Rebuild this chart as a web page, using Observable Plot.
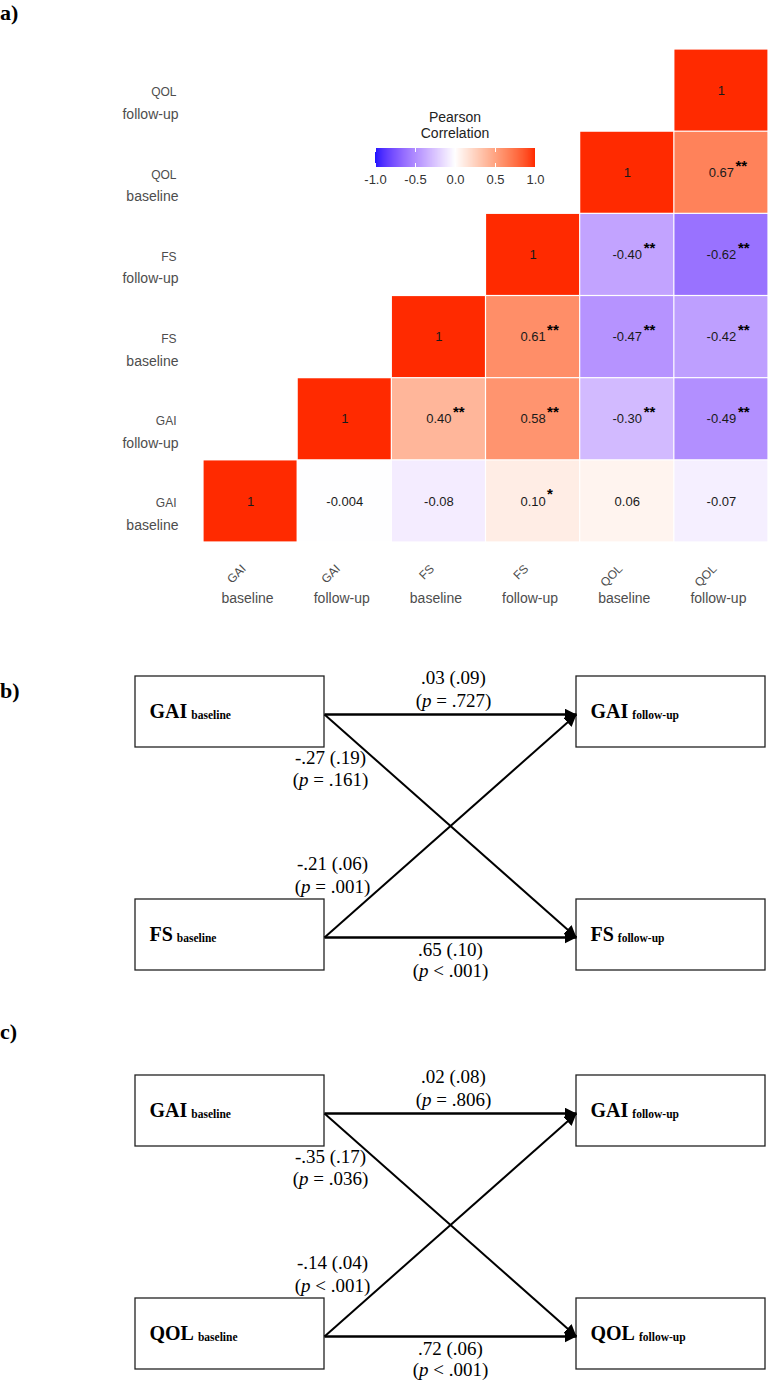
<!DOCTYPE html>
<html>
<head>
<meta charset="utf-8">
<script src="https://cdn.jsdelivr.net/npm/d3@7"></script>
<script src="https://cdn.jsdelivr.net/npm/@observablehq/plot@0.6"></script>
<style>
  body { margin: 0; background: #fff; }
  #page { position: relative; width: 780px; height: 1381px; overflow: hidden; background: #fff; }
  .panel { position: absolute; left: 0; }
  .panel-label { position: absolute; left: 0; font-family: "Liberation Serif", "Times New Roman", serif; font-weight: bold; font-size: 22px; line-height: 22px; color: #000; z-index: 5; }
  #legend-title { position: absolute; left: 375px; width: 160px; top: 109px; text-align: center; font-family: "Liberation Sans", Arial, sans-serif; font-size: 14px; line-height: 16px; color: #222; z-index: 4; }
  #legend { position: absolute; left: 355px; top: 140px; z-index: 4; }
  #legend svg { font: 13px "Liberation Sans", Arial, sans-serif !important; background: transparent !important; overflow: visible; }
  #legend svg text { fill: #333; }
  #legend .tick line { stroke: #fff !important; stroke-width: 1px; stroke-dasharray: 4, 11, 4, 100; }
</style>
</head>
<body>
<div id="page"></div>
<script>
// ---------------- DATA ----------------
// Variables of the correlation matrix (bottom-to-top on the y axis, left-to-right on x)
const measures = ["GAI", "FS", "QOL"];
const times = ["baseline", "follow-up"];
const variables = ["GAI baseline", "GAI follow-up", "FS baseline", "FS follow-up", "QOL baseline", "QOL follow-up"];

// Upper-triangle Pearson correlations, one row per variable, starting at the diagonal
const rGAIbaseline = [1, -0.004, -0.08, 0.10, 0.06, -0.07];
const rGAIfollowup = [1, 0.40, 0.58, -0.30, -0.49];
const rFSbaseline  = [1, 0.61, -0.47, -0.42];
const rFSfollowup  = [1, -0.40, -0.62];
const rQOLbaseline = [1, 0.67];
const rQOLfollowup = [1];

// Significance stars for the same cells
const sGAIbaseline = ["", "", "", "*", "", ""];
const sGAIfollowup = ["", "**", "**", "**", "**"];
const sFSbaseline  = ["", "**", "**", "**"];
const sFSfollowup  = ["", "**", "**"];
const sQOLbaseline = ["", "**"];
const sQOLfollowup = [""];

// Legend ticks
const legendTicks = [-1, -0.5, 0, 0.5, 1];

// Panel b: cross-lagged paths GAI <-> FS
const bMeasures = ["GAI", "FS"];
const bFrom = ["GAI baseline", "GAI baseline", "FS baseline", "FS baseline"];
const bTo   = ["GAI follow-up", "FS follow-up", "GAI follow-up", "FS follow-up"];
const bEst  = [0.03, -0.27, -0.21, 0.65];
const bSE   = [0.09, 0.19, 0.06, 0.10];
const bP    = ["= .727", "= .161", "= .001", "< .001"];

// Panel c: cross-lagged paths GAI <-> QOL
const cMeasures = ["GAI", "QOL"];
const cFrom = ["GAI baseline", "GAI baseline", "QOL baseline", "QOL baseline"];
const cTo   = ["GAI follow-up", "QOL follow-up", "GAI follow-up", "QOL follow-up"];
const cEst  = [0.02, -0.35, -0.14, 0.72];
const cSE   = [0.08, 0.17, 0.04, 0.06];
const cP    = ["= .806", "= .036", "< .001", "< .001"];

// ---------------- PANEL A: correlation heatmap ----------------
const page = document.getElementById("page");
const rRows = [rGAIbaseline, rGAIfollowup, rFSbaseline, rFSfollowup, rQOLbaseline, rQOLfollowup];
const sRows = [sGAIbaseline, sGAIfollowup, sFSbaseline, sFSfollowup, sQOLbaseline, sQOLfollowup];
const cells = [];
rRows.forEach((vals, i) => vals.forEach((r, k) => {
  cells.push({row: variables[i], col: variables[i + k], r, sig: sRows[i][k]});
}));
const fmtR = v => v === 1 ? "1" : (Math.abs(v) < 0.01 ? v.toFixed(3) : v.toFixed(2));
const sans = '"Liberation Sans", Arial, Helvetica, sans-serif';
const colorScale = {type: "linear", domain: [-1, 0, 1], range: ["#1e14ff", "white", "#ff2a00"], interpolate: "lab"};

const heat = Plot.plot({
  width: 780, height: 620,
  marginLeft: 203, marginRight: 12, marginTop: 49, marginBottom: 78,
  x: {type: "band", domain: variables, padding: 0, round: false, axis: null},
  y: {type: "band", domain: variables.slice().reverse(), padding: 0, round: false, axis: null},
  color: colorScale,
  style: {fontFamily: sans, fontSize: "13px", background: "transparent", overflow: "visible"},
  marks: [
    Plot.cell(cells, {x: "col", y: "row", fill: "r", inset: 0.6}),
    Plot.text(cells, {x: "col", y: "row", text: d => fmtR(d.r), fill: "#1a1a1a", fontSize: 13, fontFamily: sans}),
    Plot.text(cells.filter(d => d.sig && d.r >= 0), {x: "col", y: "row", text: "sig", textAnchor: "start", dx: 14, dy: -7, fontSize: 15, fontWeight: "bold", fill: "#000", fontFamily: sans}),
    Plot.text(cells.filter(d => d.sig && d.r < 0), {x: "col", y: "row", text: "sig", textAnchor: "start", dx: 16.5, dy: -7, fontSize: 15, fontWeight: "bold", fill: "#000", fontFamily: sans}),
    // y-axis labels (two lines)
    Plot.text(variables, {y: d => d, text: d => d.split(" ")[0], frameAnchor: "left", textAnchor: "end", dx: -27, dy: 2, fontSize: 12, fill: "#4d4d4d", fontFamily: sans}),
    Plot.text(variables, {y: d => d, text: d => d.split(" ")[1], frameAnchor: "left", textAnchor: "end", dx: -25, dy: 24, fontSize: 14, fill: "#4d4d4d", fontFamily: sans}),
    // x-axis labels (rotated measure + horizontal time point)
    Plot.text(variables, {x: d => d, text: d => d.split(" ")[0], frameAnchor: "bottom", textAnchor: "end", rotate: -45, dx: -4, dy: 27, fontSize: 12, fill: "#4d4d4d", fontFamily: sans}),
    Plot.text(variables, {x: d => d, text: d => d.split(" ")[1], frameAnchor: "bottom", dx: -3, dy: 60, fontSize: 14, fill: "#4d4d4d", fontFamily: sans})
  ]
});
heat.classList.add("panel");
heat.style.top = "0px";
page.appendChild(heat);

// Legend
const legTitle = document.createElement("div");
legTitle.id = "legend-title";
legTitle.innerHTML = "Pearson<br>Correlation";
page.appendChild(legTitle);
const legWrap = document.createElement("div");
legWrap.id = "legend";
const leg = Plot.legend({
  color: colorScale,
  width: 200, height: 53,
  marginLeft: 20, marginRight: 20, marginTop: 8, marginBottom: 26,
  ticks: 5, tickValues: legendTicks, tickSize: 5,
  tickFormat: d => d.toFixed(1),
  label: null
});
legWrap.appendChild(leg);
page.appendChild(legWrap);

// ---------------- PANELS B & C: path diagrams ----------------
const serif = '"Liberation Serif", "Times New Roman", Times, serif';
const fmtCoef = v => (v < 0 ? "-" : "") + Math.abs(v).toFixed(2).replace(/^0/, "");
const BOXW = 0.75;            // box width, in column-gap units
const BOX_UP = 38 / 223;      // box extent above path row, in row-gap units
const BOX_DN = 33 / 223;      // box extent below path row

function pathDiagram(pairMeasures, from, to, est, se, p, top, height, markerId) {
  const nodes = [];
  pairMeasures.forEach((m, row) => times.forEach((t, col) => nodes.push({name: m + " " + t, measure: m, time: t, row, col})));
  const byName = Object.fromEntries(nodes.map(n => [n.name, n]));
  const paths = from.map((f, i) => ({from: byName[f], to: byName[to[i]], est: est[i], se: se[i], p: p[i]}));
  paths.forEach(d => {
    d.kind = d.from.row === d.to.row ? (d.from.row === 0 ? "top" : "bottom") : (d.from.row === 0 ? "down" : "up");
  });
  const line1 = d => `${fmtCoef(d.est)} (${fmtCoef(d.se)})`;
  const line2 = d => `(p ${d.p})`;
  const labelSpec = {
    top:    {x: d => (d.from.col + d.to.col) / 2, y: d => d.from.row, dx: 3, dy1: -37, dy2: -14},
    bottom: {x: d => (d.from.col + d.to.col) / 2, y: d => d.from.row, dx: 0, dy1: 12, dy2: 33},
    down:   {x: d => d.from.col, y: d => d.from.row, dx: 6, dy1: 43, dy2: 65},
    up:     {x: d => d.from.col, y: d => d.from.row, dx: 8, dy1: -74, dy2: -51}
  };
  const labelMarks = [];
  for (const [kind, s] of Object.entries(labelSpec)) {
    const sub = paths.filter(d => d.kind === kind);
    labelMarks.push(Plot.text(sub, {x: s.x, y: s.y, text: line1, dx: s.dx, dy: s.dy1, fontSize: 19, fontFamily: serif, fill: "#000"}));
    labelMarks.push(Plot.text(sub, {x: s.x, y: s.y, text: line2, dx: s.dx, dy: s.dy2, fontSize: 19, fontFamily: serif, fill: "#000"}));
  }
  const svg = Plot.plot({
    width: 780, height,
    marginLeft: 324, marginRight: 204, marginTop: 74, marginBottom: height - 297,
    x: {domain: [0, 1], axis: null},
    y: {domain: [0, 1], reverse: true, axis: null},
    style: {fontFamily: serif, background: "transparent", overflow: "visible"},
    marks: [
      Plot.rect(nodes, {
        x1: d => d.col === 0 ? -BOXW : 1, x2: d => d.col === 0 ? 0 : 1 + BOXW,
        y1: d => d.row - BOX_UP, y2: d => d.row + BOX_DN,
        fill: "white", stroke: "#222", strokeWidth: 1.3
      }),
      Plot.text(nodes, {
        x: d => d.col === 0 ? -BOXW : 1, y: "row",
        text: d => d.measure + "|" + d.time,
        textAnchor: "start", lineAnchor: "bottom", dx: 14, dy: 3,
        fontWeight: "bold", fontFamily: serif, fontSize: 20, fill: "#000"
      }),
      Plot.link(paths.filter(d => d.kind === "top" || d.kind === "bottom"), {
        x1: d => d.from.col, y1: d => d.from.row, x2: d => d.to.col, y2: d => d.to.row,
        stroke: "#000", strokeWidth: 2.6
      }),
      Plot.link(paths.filter(d => d.kind === "down" || d.kind === "up"), {
        x1: d => d.from.col, y1: d => d.from.row, x2: d => d.to.col, y2: d => d.to.row,
        stroke: "#000", strokeWidth: 2
      }),
      ...labelMarks
    ]
  });
  // filled arrowheads
  const s = d3.select(svg);
  s.append("defs").append("marker")
    .attr("id", markerId).attr("viewBox", "0 0 12 12")
    .attr("refX", 12).attr("refY", 6)
    .attr("markerWidth", 12).attr("markerHeight", 12)
    .attr("markerUnits", "userSpaceOnUse").attr("orient", "auto")
    .append("path").attr("d", "M0,0L12,6L0,12Z").attr("fill", "#000");
  s.selectAll('g[aria-label="link"] path').attr("marker-end", `url(#${markerId})`);
  // node labels with subscripts, italic p
  s.selectAll("text").each(function () {
    const t = d3.select(this);
    const txt = t.text();
    if (txt.includes("|")) {
      const [main, subTxt] = txt.split("|");
      t.text(null);
      t.append("tspan").text(main);
      t.append("tspan").attr("font-size", 11.5).attr("dx", 4).attr("dy", 1.5).text(subTxt);
    } else if (txt.startsWith("(p ")) {
      t.text(null);
      t.append("tspan").text("(");
      t.append("tspan").attr("font-style", "italic").text("p");
      t.append("tspan").text(txt.slice(2));
    }
  });
  svg.classList.add("panel");
  svg.style.top = top + "px";
  return svg;
}

page.appendChild(pathDiagram(bMeasures, bFrom, bTo, bEst, bSE, bP, 640, 340, "arrow-b"));
page.appendChild(pathDiagram(cMeasures, cFrom, cTo, cEst, cSE, cP, 1039, 342, "arrow-c"));

// Panel letters
[["a)", 2], ["b)", 680], ["c)", 1021]].forEach(([t, y]) => {
  const d = document.createElement("div");
  d.className = "panel-label";
  d.style.top = y + "px";
  d.textContent = t;
  page.appendChild(d);
});
</script>
</body>
</html>
